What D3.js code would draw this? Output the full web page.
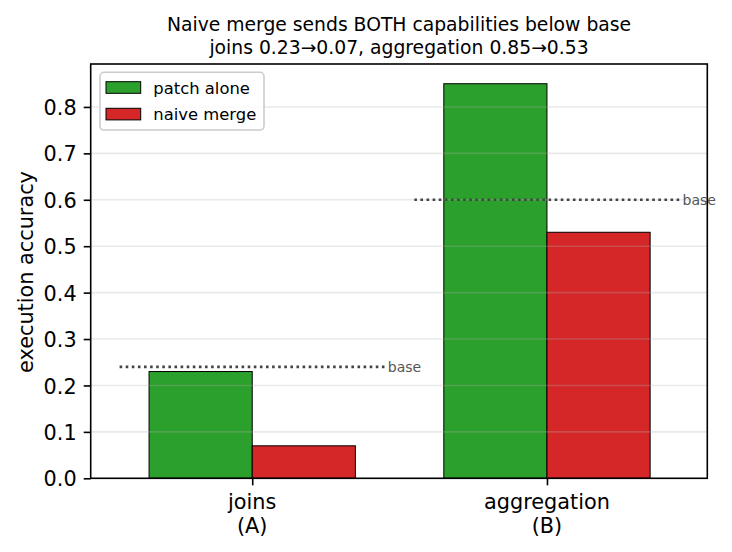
<!DOCTYPE html>
<html>
<head>
<meta charset="utf-8">
<script src="https://cdn.jsdelivr.net/npm/d3@7"></script>
<style>
  body { margin: 0; background: #fff; }
  svg { display: block; font-family: "DejaVu Sans", sans-serif; }
</style>
</head>
<body>
<svg id="chart" width="732" height="552"></svg>
<script>
// chart data
var categories = ["joins\n(A)", "aggregation\n(B)"];
var seriesNames = ["patch alone", "naive merge"];
var seriesColors = ["#2ca02c", "#d62728"];
var patchAlone = [0.23, 0.85];
var naiveMerge = [0.07, 0.53];
var baseValues = [0.24, 0.60];
var yTicks = [0.0, 0.1, 0.2, 0.3, 0.4, 0.5, 0.6, 0.7, 0.8];
var titleLines = ["Naive merge sends BOTH capabilities below base",
                  "joins 0.23\u21920.07, aggregation 0.85\u21920.53"];

var svg = d3.select("#chart");
// plot box (window.top is reserved, so use other names)
var plotL = 90.7, plotR = 707.3, plotT = 64, plotB = 478.3;
var barW = 0.35;

var xScale = d3.scaleLinear().domain([-0.548, 1.544]).range([plotL, plotR]);
var yScale = d3.scaleLinear().domain([0, 0.8925]).range([plotB, plotT]);

var series = [patchAlone, naiveMerge];

// bars
var bars = [];
series.forEach(function(vals, s) {
    vals.forEach(function(v, i) {
        bars.push({ i: i, s: s, v: v });
    });
});

svg.append("g").selectAll("rect")
    .data(bars)
    .enter()
    .append("rect")
    .attr("x", d => xScale(d.i + (d.s === 0 ? -barW : 0)))
    .attr("width", d => xScale(barW) - xScale(0))
    .attr("y", d => yScale(d.v))
    .attr("height", d => yScale(0) - yScale(d.v))
    .attr("fill", d => seriesColors[d.s])
    .attr("stroke", "#000")
    .attr("stroke-width", 1);

// grid on top of bars
svg.append("g").selectAll("line")
    .data(yTicks.slice(1))
    .enter()
    .append("line")
    .attr("x1", plotL).attr("x2", plotR)
    .attr("y1", d => yScale(d)).attr("y2", d => yScale(d))
    .attr("stroke", "#b0b0b0")
    .attr("stroke-opacity", 0.28)
    .attr("stroke-width", 1.6);

// base reference lines
svg.append("g").selectAll("line")
    .data(baseValues)
    .enter()
    .append("line")
    .attr("x1", (d, i) => xScale(i - 0.45))
    .attr("x2", (d, i) => xScale(i + 0.45))
    .attr("y1", d => yScale(d)).attr("y2", d => yScale(d))
    .attr("stroke", "#444")
    .attr("stroke-width", 2.6)
    .attr("stroke-dasharray", "2.6 3.5");

svg.append("g").selectAll("text")
    .data(baseValues)
    .enter()
    .append("text")
    .attr("x", (d, i) => xScale(i + 0.46))
    .attr("y", d => yScale(d) + 5)
    .attr("font-size", 14)
    .attr("fill", "#555")
    .text("base");

// axes
var yAxis = d3.axisLeft(yScale)
    .tickValues(yTicks)
    .tickFormat(d3.format(".1f"))
    .tickSize(7)
    .tickPadding(7);

var yG = svg.append("g")
    .attr("transform", "translate(" + plotL + ",0)")
    .call(yAxis);
yG.select(".domain").remove();
yG.selectAll(".tick line").attr("stroke", "#000").attr("stroke-width", 1.6);
yG.selectAll(".tick text")
    .attr("font-size", 20.8)
    .attr("font-family", "DejaVu Sans")
    .attr("fill", "#000")
    .attr("dy", null)
    .attr("y", 7.6);

var xAxis = d3.axisBottom(xScale)
    .tickValues([0, 1])
    .tickFormat("")
    .tickSize(7);

var xG = svg.append("g")
    .attr("transform", "translate(0," + plotB + ")")
    .call(xAxis);
xG.select(".domain").remove();
xG.selectAll(".tick line").attr("stroke", "#000").attr("stroke-width", 1.6);

svg.append("g").selectAll("text")
    .data(categories)
    .enter()
    .append("text")
    .attr("x", (d, i) => xScale(i))
    .attr("text-anchor", "middle")
    .attr("font-size", 20.8)
    .attr("fill", "#000")
    .each(function(d) {
        var t = d3.select(this);
        d.split("\n").forEach(function(line, k) {
            t.append("tspan")
                .attr("x", t.attr("x"))
                .attr("y", 509 + k * 24)
                .text(line);
        });
    });

// frame
svg.append("rect")
    .attr("x", plotL).attr("y", plotT)
    .attr("width", plotR - plotL).attr("height", plotB - plotT)
    .attr("fill", "none")
    .attr("stroke", "#000")
    .attr("stroke-width", 1.6);

// y label
svg.append("text")
    .attr("transform", "translate(32.5,272) rotate(-90)")
    .attr("text-anchor", "middle")
    .attr("font-size", 20.8)
    .attr("fill", "#000")
    .text("execution accuracy");

// title
svg.append("g").selectAll("text")
    .data(titleLines)
    .enter()
    .append("text")
    .attr("x", (plotL + plotR) / 2)
    .attr("y", (d, i) => 30.7 + i * 23.5)
    .attr("text-anchor", "middle")
    .attr("font-size", 18.75)
    .attr("fill", "#000")
    .text(d => d);

// legend
var legend = svg.append("g");
legend.append("rect")
    .attr("x", 100).attr("y", 72.3)
    .attr("width", 164).attr("height", 57.7)
    .attr("rx", 4)
    .attr("fill", "#fff")
    .attr("fill-opacity", 0.8)
    .attr("stroke", "#ccc")
    .attr("stroke-width", 1.6);

var items = legend.selectAll("g.item")
    .data(seriesNames)
    .enter()
    .append("g")
    .attr("class", "item")
    .attr("transform", (d, i) => "translate(0," + (i * 26.6) + ")");

items.append("rect")
    .attr("x", 106).attr("y", 81.7)
    .attr("width", 34.7).attr("height", 11.6)
    .attr("fill", (d, i) => seriesColors[i])
    .attr("stroke", "#000")
    .attr("stroke-width", 1);

items.append("text")
    .attr("x", 153.3)
    .attr("y", 93.5)
    .attr("font-size", 16.4)
    .attr("fill", "#000")
    .text(d => d);
</script>
</body>
</html>
